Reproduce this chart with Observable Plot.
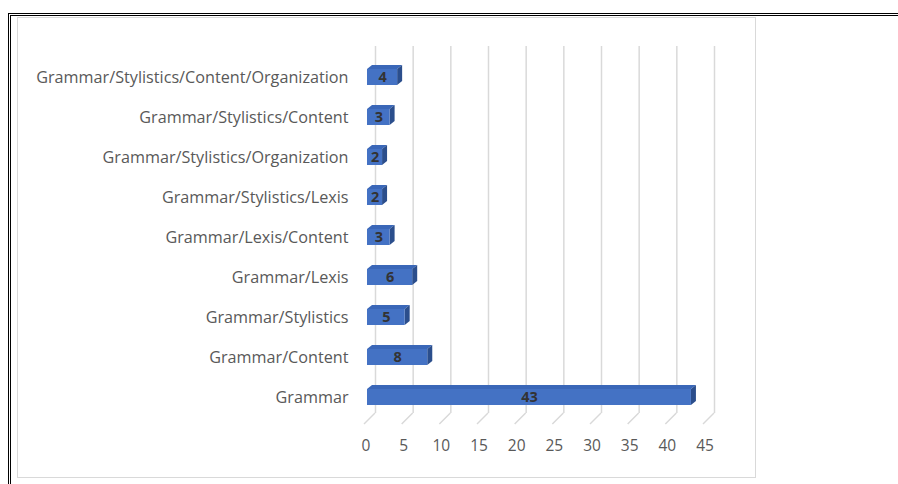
<!DOCTYPE html>
<html>
<head>
<meta charset="utf-8">
<script src="https://cdn.jsdelivr.net/npm/d3@7"></script>
<script src="https://cdn.jsdelivr.net/npm/@observablehq/plot@0.6"></script>
<style>
  html, body { margin: 0; padding: 0; background: #fff; overflow: hidden; }
  #outer { position: absolute; left: 8px; top: 13px; width: 1000px; height: 1000px;
           border-top: 3px double #000; border-left: 3px double #000; }
  #frame { position: absolute; left: 17px; top: 17px; width: 737px; height: 459px;
           border: 1.5px solid #d9d9d9; }
  #chart { position: absolute; left: 0; top: 0; }
  #chart svg { display: block; }
</style>
</head>
<body>
<div id="outer"></div>
<div id="frame"><div id="chart"></div></div>
<script>
const categories = [
  "Grammar/Stylistics/Content/Organization",
  "Grammar/Stylistics/Content",
  "Grammar/Stylistics/Organization",
  "Grammar/Stylistics/Lexis",
  "Grammar/Lexis/Content",
  "Grammar/Lexis",
  "Grammar/Stylistics",
  "Grammar/Content",
  "Grammar"
];
const counts = [4, 3, 2, 2, 3, 6, 5, 8, 43];
const xTicks = [0, 5, 10, 15, 20, 25, 30, 35, 40, 45];

const data = categories.map((c, i) => ({category: c, count: counts[i]}));

const W = 737, H = 459;
const MB = 44;
const plot = Plot.plot({
  width: W,
  height: H,
  marginLeft: 349,
  marginRight: 49,
  marginTop: 23,
  marginBottom: MB,
  style: {fontFamily: "'Open Sans', sans-serif", background: "transparent"},
  x: {domain: [0, 45], axis: null},
  y: {domain: categories, padding: 0.61, axis: null},
  marks: [
    Plot.ruleX(xTicks, {x: d => d, dx: 8, stroke: "#d9d9d9", strokeWidth: 1.5, insetTop: 5, insetBottom: 20}),
    Plot.barX(data, {y: "category", x: "count", fill: "#4472C4"}),
    Plot.text(data, {y: "category", x: d => d.count / 2, text: d => String(d.count),
      fill: "#333", fontWeight: "bold", fontSize: 14.5}),
    Plot.axisY({tickSize: 0, tickPadding: 19, fontSize: 16.2, color: "#595959", label: null}),
    Plot.axisX({ticks: xTicks, tickSize: 0, tickPadding: 6, fontSize: 15.5, color: "#595959", label: null, dx: -1.5})
  ]
});

document.getElementById("chart").appendChild(plot);

// 3D decorations using the plot's own scales
const sx = plot.scale("x"), sy = plot.scale("y");
const xs = v => sx.apply(v), ys = c => sy.apply(c), bw = sy.bandwidth;
const svg = d3.select(plot);
const dxD = 5, dyD = 4;
const frontBars = svg.selectAll("g[aria-label='bar']").node();
const deco = svg.insert("g", () => frontBars);
const y0base = H - MB - 20;
deco.selectAll("path.slant").data(xTicks).join("path")
  .attr("d", t => `M${xs(t) + 8},${y0base}L${xs(t) - 3},${y0base + 11}`)
  .attr("stroke", "#d9d9d9").attr("stroke-width", 1.5).attr("fill", "none");
deco.selectAll("path.top").data(data).join("path")
  .attr("d", d => {
    const x0 = xs(0), x1 = xs(d.count), y0 = ys(d.category);
    return `M${x0},${y0}L${x0 + dxD},${y0 - dyD}L${x1 + dxD},${y0 - dyD}L${x1},${y0}Z`;
  }).attr("fill", "#3A67B8");
deco.selectAll("path.side").data(data).join("path")
  .attr("d", d => {
    const x1 = xs(d.count), y0 = ys(d.category);
    return `M${x1},${y0}L${x1 + dxD},${y0 - dyD}L${x1 + dxD},${y0 + bw - dyD}L${x1},${y0 + bw}Z`;
  }).attr("fill", "#2B4E8C");
</script>
</body>
</html>
